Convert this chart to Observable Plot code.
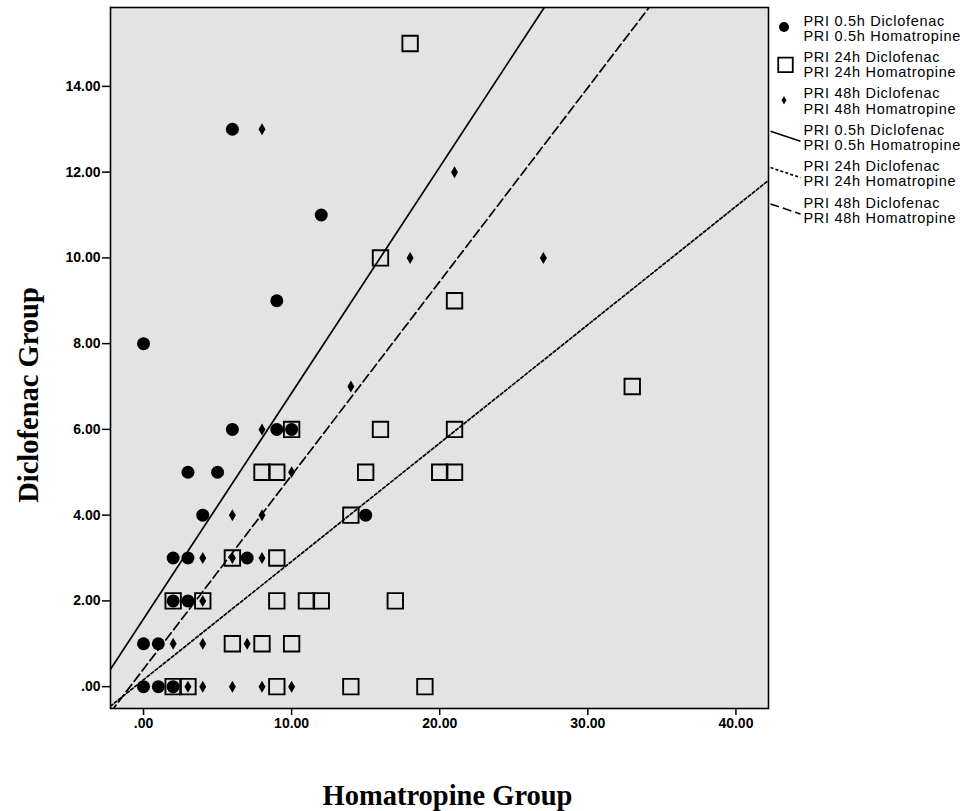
<!DOCTYPE html>
<html>
<head>
<meta charset="utf-8">
<script src="https://cdn.jsdelivr.net/npm/d3@7"></script>
<script src="https://cdn.jsdelivr.net/npm/@observablehq/plot@0.6"></script>
<style>
  body { margin: 0; background: #ffffff; }
  #chart svg { display: block; }
</style>
</head>
<body>
<div id="chart"></div>
<script>
// ---------- data ----------
const seriesNames = ["PRI 0.5h", "PRI 24h", "PRI 48h"];

// PRI 0.5h (x = Homatropine, y = Diclofenac)
const pri05Homatropine = [6, 12, 9, 0, 6, 9, 10, 3, 5, 4, 15, 2, 3, 7, 2, 3, 0, 1, 0, 1, 2];
const pri05Diclofenac  = [13, 11, 9, 8, 6, 6, 6, 5, 5, 4, 4, 3, 3, 3, 2, 2, 1, 1, 0, 0, 0];

// PRI 24h
const pri24Homatropine = [18, 16, 21, 33, 10, 16, 21, 8, 9, 15, 20, 21, 14, 6, 9, 2, 4, 9, 11, 12, 17, 6, 8, 10, 2, 3, 9, 14, 19];
const pri24Diclofenac  = [15, 10, 9, 7, 6, 6, 6, 5, 5, 5, 5, 5, 4, 3, 3, 2, 2, 2, 2, 2, 2, 1, 1, 1, 0, 0, 0, 0, 0];

// PRI 48h
const pri48Homatropine = [8, 21, 18, 27, 14, 8, 10, 6, 8, 4, 6, 8, 4, 2, 4, 7, 3, 4, 6, 8, 10];
const pri48Diclofenac  = [13, 12, 10, 10, 7, 6, 5, 4, 4, 3, 3, 3, 2, 1, 1, 1, 0, 0, 0, 0, 0];

// Fit lines: Diclofenac = intercept + slope * Homatropine
const fitIntercepts = [1.58, 0.16, 0.41];
const fitSlopes     = [0.527, 0.276, 0.452];

// Axis ticks
const xTicks = [0, 10, 20, 30, 40];
const yTicks = [0, 2, 4, 6, 8, 10, 12, 14];

// Legend labels (two lines per entry)
const legendTopLines = ["PRI 0.5h Diclofenac", "PRI 24h Diclofenac", "PRI 48h Diclofenac",
                        "PRI 0.5h Diclofenac", "PRI 24h Diclofenac", "PRI 48h Diclofenac"];
const legendBottomLines = ["PRI 0.5h Homatropine", "PRI 24h Homatropine", "PRI 48h Homatropine",
                           "PRI 0.5h Homatropine", "PRI 24h Homatropine", "PRI 48h Homatropine"];

// ---------- build ----------
const xDomain = [-2.23, 42.2];
const yDomain = [-0.51, 15.84];
const fmt = d => d === 0 ? ".00" : d.toFixed(2);

const toRows = (xs, ys, s) => xs.map((x, i) => ({series: s, x, y: ys[i]}));
const rows05 = toRows(pri05Homatropine, pri05Diclofenac, seriesNames[0]);
const rows24 = toRows(pri24Homatropine, pri24Diclofenac, seriesNames[1]);
const rows48 = toRows(pri48Homatropine, pri48Diclofenac, seriesNames[2]);

const fitRows = k => xDomain.map(x => ({series: seriesNames[k], x, y: fitIntercepts[k] + fitSlopes[k] * x}));

const tallDiamond = {
  draw(ctx, size) {
    const r = Math.sqrt(size / Math.PI);
    const w = r * 0.58;
    ctx.moveTo(0, -r); ctx.lineTo(w, 0); ctx.lineTo(0, r); ctx.lineTo(-w, 0); ctx.closePath();
  }
};
const slantLine = {
  draw(ctx, size) {
    const r = Math.sqrt(size / Math.PI);
    ctx.moveTo(-r, -r / 3); ctx.lineTo(r, r / 3);
  }
};

const sans = "Arial, 'Liberation Sans', sans-serif";
const serif = "'Times New Roman', 'Liberation Serif', serif";
const dashes = [null, "3,2.2", "9,4"];

// legend marks, placed in the right margin relative to the frame's top-right corner
const legendMarks = [];
const legendTop = 7;
const legendText = {frameAnchor: "top-right", dx: 35, text: d => d, textAnchor: "start", lineAnchor: "middle",
  fontSize: 14.5, fontFamily: sans, fill: "black"};
legendTopLines.forEach((lab, i) => {
  const cy = 28 + 36.4 * i - legendTop;
  legendMarks.push(Plot.text([lab], {...legendText, dy: cy - 7.6}));
  legendMarks.push(Plot.text([legendBottomLines[i]], {...legendText, dy: cy + 7.6}));
  if (i === 0) legendMarks.push(Plot.dot([0], {frameAnchor: "top-right", dx: 15.5, dy: cy - 1.5, r: 5, fill: "black", symbol: "circle"}));
  if (i === 1) legendMarks.push(Plot.dot([0], {frameAnchor: "top-right", dx: 17, dy: cy, r: 8.2, fill: "none", stroke: "black", strokeWidth: 1.8, symbol: "square"}));
  if (i === 2) legendMarks.push(Plot.dot([0], {frameAnchor: "top-right", dx: 15.5, dy: cy - 1, r: 4.2, fill: "black", stroke: "none", symbol: tallDiamond}));
  if (i >= 3) legendMarks.push(Plot.dot([0], {frameAnchor: "top-right", dx: 17, dy: cy - 1.5, r: 15, fill: "none", stroke: "black", strokeWidth: 1.6, strokeDasharray: dashes[i - 3], symbol: slantLine}));
});

const chart = Plot.plot({
  width: 960,
  height: 811,
  marginLeft: 110,
  marginRight: 192,
  marginTop: 7,
  marginBottom: 103,
  style: {fontFamily: sans, background: "#ffffff", color: "black"},
  x: {domain: xDomain},
  y: {domain: yDomain},
  marks: [
    Plot.frame({fill: "#e3e3e3", stroke: "none"}),
    Plot.dot(rows05, {x: "x", y: "y", r: 6.5, fill: "black", symbol: "circle"}),
    Plot.dot(rows24, {x: "x", y: "y", r: 8.7, fill: "none", stroke: "black", strokeWidth: 1.9, symbol: "square"}),
    Plot.dot(rows48, {x: "x", y: "y", r: 6, fill: "black", stroke: "none", symbol: tallDiamond}),
    Plot.line(fitRows(0), {x: "x", y: "y", stroke: "black", strokeWidth: 1.7, clip: true}),
    Plot.line(fitRows(1), {x: "x", y: "y", stroke: "black", strokeWidth: 1.7, strokeDasharray: dashes[1], clip: true}),
    Plot.line(fitRows(2), {x: "x", y: "y", stroke: "black", strokeWidth: 1.7, strokeDasharray: dashes[2], clip: true}),
    Plot.axisX({ticks: xTicks, tickFormat: fmt, tickSize: 7, tickPadding: 3, strokeWidth: 1.5,
      fontSize: 14, fontWeight: "bold", label: null}),
    Plot.axisY({ticks: yTicks, tickFormat: fmt, tickSize: 8, tickPadding: 2, strokeWidth: 1.5,
      fontSize: 14, fontWeight: "bold", label: null}),
    Plot.frame({stroke: "black", strokeWidth: 1.6}),
    Plot.text(["Homatropine Group"], {frameAnchor: "bottom", dx: 8, dy: 87, text: d => d,
      textAnchor: "middle", lineAnchor: "middle",
      fontFamily: serif, fontWeight: "bold", fontSize: 28.5, fill: "black"}),
    Plot.text(["Diclofenac Group"], {frameAnchor: "left", dx: -82, dy: 37, rotate: -90, text: d => d,
      textAnchor: "middle", lineAnchor: "middle",
      fontFamily: serif, fontWeight: "bold", fontSize: 28.5, fill: "black"}),
    ...legendMarks
  ]
});
// widen the legend lettering slightly, as in the original rendering
d3.select(chart).selectAll("text")
  .filter(function () { return this.textContent.startsWith("PRI"); })
  .attr("letter-spacing", 0.7);
document.getElementById("chart").appendChild(chart);
</script>
</body>
</html>
